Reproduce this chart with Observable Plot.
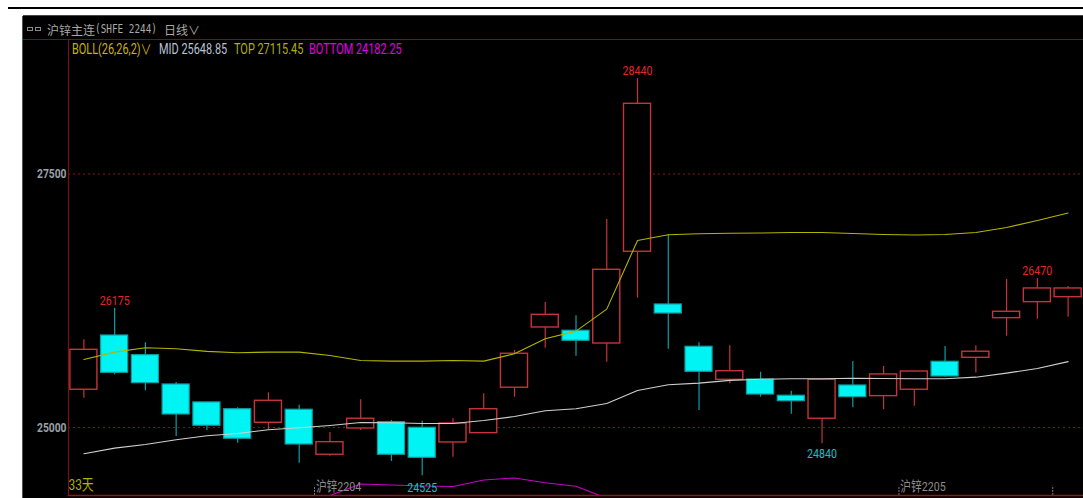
<!DOCTYPE html>
<html lang="zh">
<head>
<meta charset="utf-8">
<script src="https://cdn.jsdelivr.net/npm/d3@7"></script>
<script src="https://cdn.jsdelivr.net/npm/@observablehq/plot@0.6"></script>
<style>
html,body{margin:0;padding:0;background:#fff;width:1083px;height:498px;overflow:hidden}
body{position:relative;font-family:"Roboto","Noto Sans CJK SC",sans-serif}
#rule{position:absolute;left:8px;right:0;top:7px;height:2px;background:#000}
#panel{position:absolute;left:23px;top:16px;width:1060px;height:482px;background:#000;box-shadow:-1px 0 0 #555,0 -1px 0 #444}
#head{height:24px;box-sizing:border-box;border-bottom:1px solid #7a1010;color:#a8a8a8;font-size:12px;line-height:27px;white-space:nowrap;position:relative}
#head span{position:absolute;top:0;transform-origin:left center}
#head .mono{font-family:"DejaVu Sans Mono","Noto Sans CJK SC",monospace;font-size:12px;transform:scaleX(.78)}
#head .cjk{font-family:"Noto Sans CJK SC",sans-serif;font-size:12px}
#icon{position:absolute;left:4px;top:11px;width:15px;height:5px}
#icon i{position:absolute;top:0;width:6px;height:4px;border:1px solid #8a8a8a;box-sizing:border-box}
#legend{height:19px;position:relative;font-size:14px;line-height:19px;white-space:nowrap}
#legend:before{content:"";position:absolute;left:45px;top:0;bottom:0;width:1px;background:#7a1010}
#legend span{position:absolute;top:0;transform-origin:left center;transform:scaleX(.78)}
svg{display:block}
</style>
</head>
<body>
<div id="rule"></div>
<div id="panel">
  <div id="head">
    <div id="icon"><i style="left:0"></i><i style="left:8px"></i></div>
    <span class="cjk" style="left:24px">沪锌主连</span>
    <span class="mono" style="left:72px">(SHFE 2244)</span>
    <span class="cjk" style="left:141px">日线∨</span>
  </div>
  <div id="legend">
    <span style="left:49px;color:#c8b400">BOLL(26,26,2)∨</span>
    <span style="left:136px;color:#b8c4d8">MID 25648.85</span>
    <span style="left:211px;color:#b0b000">TOP 27115.45</span>
    <span style="left:286px;color:#e000e0">BOTTOM 24182.25</span>
  </div>
  <div id="chart"></div>
</div>
<script>
const opens  = [25372,25907,25713,25424,25247,25180,25046,25175,24731,24990,25052,24997,24852,24944,25392,25986,25954,25828,26733,26213,25796,25470,25473,25313,25086,25414,25309,25372,25648,25687,26078,26236,26285];
const closes = [25766,25539,25437,25128,25017,24889,25263,24832,24855,25086,24731,24701,25039,25180,25727,26111,25855,26555,28192,26124,25549,25555,25325,25259,25470,25299,25523,25552,25503,25747,26141,26371,26371];
const highs  = [25865,26175,25835,25444,25247,25194,25342,25220,24951,25273,25069,25062,25086,25332,25759,26233,26102,27051,28440,26900,25835,25806,25545,25358,25470,25651,25602,25552,25799,25806,26460,26470,26391];
const lows   = [25289,25520,25362,24911,24970,24845,24977,24648,24717,24970,24665,24525,24707,24944,25299,25782,25703,25644,26275,25772,25168,25431,25299,25131,24840,25194,25175,25210,25496,25536,25900,26068,26088];
const mid    = [24741,24796,24832,24879,24918,24941,24977,24997,25020,25049,25046,25039,25039,25069,25108,25165,25184,25237,25365,25421,25437,25464,25476,25480,25480,25486,25483,25480,25480,25496,25536,25582,25649];
const top_   = [25671,25743,25786,25776,25750,25737,25743,25743,25710,25661,25654,25654,25661,25654,25727,25875,25950,26167,26844,26900,26910,26916,26918,26923,26923,26913,26903,26898,26903,26923,26972,27041,27115];
const bottomIdx = [8,9,10,11,12,13,14,15,16,17];
const bottom = [24329,24443,24433,24423,24418,24482,24502,24455,24421,24302];
const priceTicks = [25000,27500];
const highLabels = [[1,26175],[18,28440],[31,26470]];
const lowLabelNear = [[24,24840]];
const lowLabelFar  = [[11,24525]];
const contracts  = [[8,"沪锌2204"],[27,"沪锌2205"]];
const contractTicks = [8,27,32];
const daysLabel = "33天";

const idx = d3.range(opens.length);
const candles = idx.map(i => ({i, o:opens[i], c:closes[i], h:highs[i], l:lows[i]}));
const ups = candles.filter(d => d.c >= d.o);
const downs = candles.filter(d => d.c < d.o);
const RED = "#c4343a", TEAL = "#0e9ea2", CYAN = "#00f4f4", AXIS = "#7a1010";
const FONT = '"Roboto","Noto Sans CJK SC",sans-serif';

const chart = Plot.plot({
  width: 1060, height: 439,
  marginLeft: 45, marginRight: 0, marginTop: 0, marginBottom: 3,
  style: {background: "#000", fontFamily: FONT, fontSize: "13px"},
  x: {type: "band", domain: idx, paddingInner: .12, paddingOuter: .06, round: false, axis: null},
  y: {domain: [24329, 28629], axis: null},
  marks: [
    Plot.ruleY(priceTicks, {stroke: "#8a1414", strokeWidth: 1, strokeDasharray: "2,3"}),
    Plot.axisY(priceTicks, {tickSize: 0, tickPadding: 2, fill: "#9aa0a8", fontWeight: "bold", fontSize: 13, label: null, anchor: "left", tickFormat: "d"}),
    Plot.ruleX(ups, {x: "i", y1: "l", y2: "h", stroke: RED, strokeWidth: 1.2}),
    Plot.ruleX(downs, {x: "i", y1: "l", y2: "h", stroke: TEAL, strokeWidth: 1.2}),
    Plot.barY(ups, {x: "i", y1: "o", y2: "c", fill: "#000", stroke: RED, strokeWidth: 1.4}),
    Plot.barY(downs, {x: "i", y1: "o", y2: "c", fill: CYAN, stroke: TEAL, strokeWidth: 1.2}),
    Plot.lineY(mid, {x: idx, y: mid, stroke: "#cfcfcf", strokeWidth: 1.1}),
    Plot.lineY(top_, {x: idx, y: top_, stroke: "#b4b400", strokeWidth: 1.1}),
    Plot.lineY(bottom, {x: bottomIdx, y: bottom, stroke: "#c800c8", strokeWidth: 1.1, clip: true}),
    Plot.text(highLabels, {x: d => d[0], y: d => d[1], text: d => String(d[1]), fill: "#e02828", dy: -8, fontSize: 13.5}),
    Plot.text(lowLabelNear, {x: d => d[0], y: d => d[1], text: d => String(d[1]), fill: "#10c0c8", dy: 10, fontSize: 13.5}),
    Plot.text(lowLabelFar, {x: d => d[0], y: d => d[1], text: d => String(d[1]), fill: "#10c0c8", dy: 12, fontSize: 13.5}),
    Plot.text(contracts, {x: d => d[0], y: 24329, text: d => d[1], textAnchor: "start", dx: -14, dy: -9, fill: "#8c8c8c", fontSize: 13.5}),
    Plot.ruleX(contractTicks, {x: d => d, y1: 24329, y2: 24420, dx: -15.4, stroke: "#7c7c7c", strokeDasharray: "2,1"}),
    Plot.text([daysLabel], {frameAnchor: "bottom-left", text: d => d, fill: "#b0b000", dx: 0, dy: -6, fontSize: 15}),
    Plot.frame({anchor: "left", stroke: AXIS, strokeWidth: 1.2}),
    Plot.frame({anchor: "bottom", stroke: "#a01010", strokeWidth: 1.4})
  ]
});
document.getElementById("chart").appendChild(chart);
// the reference uses a tall, narrow screen font: squeeze the real text to match
d3.select(chart).selectAll("text").each(function () {
  const w = this.getComputedTextLength();
  this.setAttribute("textLength", (w * .79).toFixed(1));
  this.setAttribute("lengthAdjust", "spacingAndGlyphs");
});
</script>
</body>
</html>
